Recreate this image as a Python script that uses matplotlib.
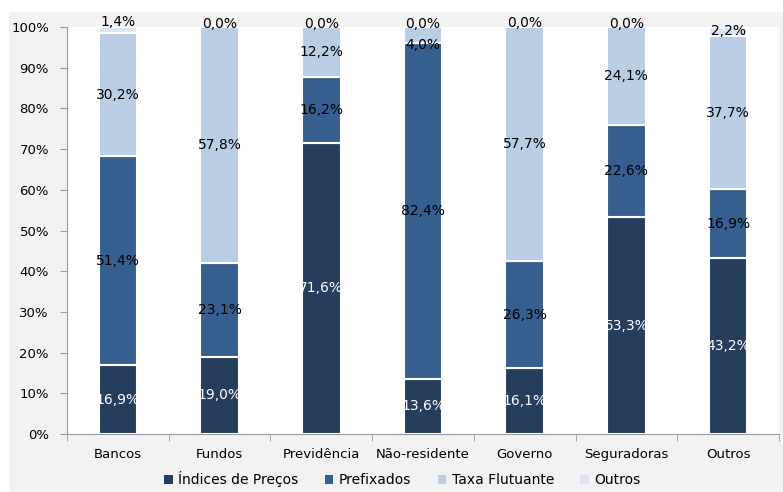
import matplotlib.pyplot as plt
from matplotlib.patches import Rectangle, Patch
from matplotlib.ticker import FixedLocator, FuncFormatter
import numpy as np

# data
categories = ['Bancos', 'Fundos', 'Previdência', 'Não-residente', 'Governo', 'Seguradoras', 'Outros']
series_names = ['Índices de Preços', 'Prefixados', 'Taxa Flutuante', 'Outros']
indices = [16.9, 19.0, 71.6, 13.6, 16.1, 53.3, 43.2]
prefixados = [51.4, 23.1, 16.2, 82.4, 26.3, 22.6, 16.9]
flutuante = [30.2, 57.8, 12.2, 4.0, 57.7, 24.1, 37.7]
outros = [1.4, 0.0, 0.0, 0.0, 0.0, 0.0, 2.2]

colors = ['#253e5e', '#365f8f', '#b9cde4', '#dbe5f1']
text_colors = ['white', 'black', 'black', 'black']

# small label nudges (in % units) to keep the labels near the top apart, like the original
nudge = {(2, 3): -2.3, (3, 0): 2.1, (3, 1): 0.8, (3, 2): 0.8, (3, 3): 0.8,
         (3, 4): 0.8, (3, 5): 0.8}

plt.rcParams['font.family'] = ['DejaVu Sans']

fig = plt.figure(figsize=(7.83, 4.92), dpi=100)
fig.patch.set_facecolor('white')
# gray chart area background
fig.patches.append(Rectangle((9 / 783, 0), 1, (492 - 12) / 492, transform=fig.transFigure,
                             facecolor='#f2f2f2', edgecolor='none', zorder=-10))

ax = fig.add_axes([67 / 783, (492 - 434) / 492, 712 / 783, 407 / 492])
ax.set_facecolor('white')

x = np.arange(len(categories))
bottom = np.zeros(len(categories))
all_series = [indices, prefixados, flutuante, outros]
for si, (vals, col, tc) in enumerate(zip(all_series, colors, text_colors)):
    vals = np.array(vals)
    ax.bar(x, vals, 0.38, bottom=bottom, color=col, edgecolor='white', linewidth=1.5, zorder=2)
    for xi, b, v in zip(x, bottom, vals):
        yc = b + v / 2 + nudge.get((si, xi), 0)
        ax.text(xi, yc, f'{v:.1f}%'.replace('.', ','), ha='center', va='center',
                fontsize=10, color=tc, zorder=3)
    bottom += vals

ax.set_ylim(0, 100)
ax.set_xlim(-0.5, len(categories) - 0.5)
ax.set_yticks(np.arange(0, 101, 10))
ax.yaxis.set_major_formatter(FuncFormatter(lambda v, p: f'{int(v)}%'))
ax.set_xticks(x)
ax.set_xticklabels(categories)
ax.xaxis.set_minor_locator(FixedLocator(np.arange(-0.5, len(categories), 1)))
ax.tick_params(axis='x', which='major', length=0, pad=10, labelsize=9.5)
ax.tick_params(axis='x', which='minor', length=5, color='#9a9a9a')
ax.tick_params(axis='y', length=5, color='#9a9a9a', labelsize=9.5, pad=8)

for s in ['top', 'right']:
    ax.spines[s].set_visible(False)
for s in ['left', 'bottom']:
    ax.spines[s].set_color('#9a9a9a')

handles = [Patch(facecolor=c, edgecolor='none') for c in colors]
fig.legend(handles, series_names, loc='center', bbox_to_anchor=(0.514, 13 / 492), ncol=4,
           frameon=False, fontsize=10, handlelength=0.6, handleheight=0.6,
           handletextpad=0.4, columnspacing=1.9)

fig.savefig('out.png', dpi=100)
